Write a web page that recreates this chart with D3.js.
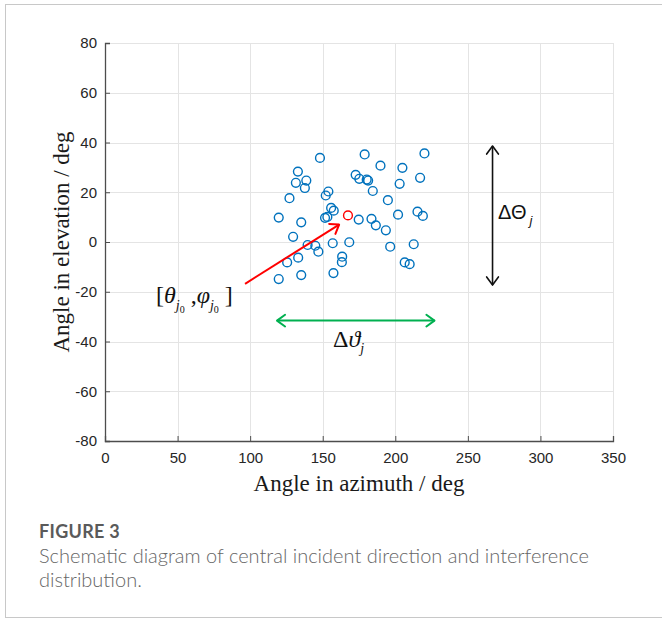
<!DOCTYPE html>
<html>
<head>
<meta charset="utf-8">
<script src="https://cdn.jsdelivr.net/npm/d3@7"></script>
<style>
  html, body { margin: 0; padding: 0; background: #fff; }
  svg { display: block; }
</style>
</head>
<body>
<svg id="fig" width="662" height="619"></svg>
<script>
// Interference directions (azimuth, elevation) in degrees
const azimuth = [148.1, 178.9, 220.1, 189.8, 204.9, 217.1, 132.9, 131.5, 138.7, 137.7,
  172.7, 175.2, 180.3, 181.3, 203.0, 184.5, 153.9, 152.1, 127.1, 194.9,
  155.8, 157.6, 119.7, 135.2, 153.2, 151.6, 174.8, 183.6, 186.6, 193.5,
  201.9, 215.3, 219.0, 129.6, 139.6, 144.9, 156.9, 168.3, 147.0, 196.5,
  212.7, 133.1, 125.5, 163.4, 163.2, 206.5, 209.9, 119.7, 135.2, 157.4];
const elevation = [33.8, 35.2, 35.6, 30.7, 29.8, 25.8, 28.3, 23.8, 24.7, 21.7,
  27.0, 25.4, 25.1, 24.7, 23.4, 20.5, 20.3, 18.7, 17.6, 16.8,
  13.7, 12.6, 9.8, 7.9, 10.1, 9.7, 9.0, 9.3, 6.7, 4.7,
  11.0, 12.2, 10.5, 2.1, -1.2, -1.5, -0.5, -0.1, -3.9, -1.9,
  -0.9, -6.3, -8.2, -5.9, -8.1, -8.2, -8.9, -14.9, -13.3, -12.5];

// Central incident direction
const centerDir = [167.4, 10.7];

// Annotation arrows: [x1, y1, x2, y2] in data units
const pointerArrow = [96.5, -16.8, 161.3, 7.0];
const elevSpanArrow = [267, 38.6, 267, -17.3];
const azSpanArrow = [118.5, -31.6, 227, -31.6];

const xTicks = [0, 50, 100, 150, 200, 250, 300, 350];
const yTicks = [-80, -60, -40, -20, 0, 20, 40, 60, 80];

const svg = d3.select("#fig");

// Outer frame
svg.append("rect")
  .attr("x", 5.5).attr("y", 4.5)
  .attr("width", 670).attr("height", 613)
  .attr("fill", "none").attr("stroke", "#c8c8c8").attr("stroke-width", 1);

const L = 105, T = 43, R = 613, B = 441;
const x = d3.scaleLinear().domain([0, 350]).range([L, R]);
const y = d3.scaleLinear().domain([-80, 80]).range([B, T]);

// Grid
const grid = svg.append("g").attr("stroke", "#e4e4e4").attr("stroke-width", 1);
grid.selectAll("line.v").data(xTicks.slice(1)).join("line")
  .attr("x1", d => Math.round(x(d)) + 0.5).attr("x2", d => Math.round(x(d)) + 0.5)
  .attr("y1", T).attr("y2", B);
grid.selectAll("line.h").data(yTicks.slice(1)).join("line")
  .attr("x1", L).attr("x2", R)
  .attr("y1", d => Math.round(y(d)) + 0.5).attr("y2", d => Math.round(y(d)) + 0.5);

// Axes (ticks pointing inward, plain hyphen minus in labels)
const fmt = d => String(d);
const xAxis = svg.append("g").attr("transform", `translate(0,${B})`)
  .call(d3.axisBottom(x).tickValues(xTicks).tickFormat(fmt)
    .tickSizeInner(-5).tickSizeOuter(-5).tickPadding(11));
const yAxis = svg.append("g").attr("transform", `translate(${L},0)`)
  .call(d3.axisLeft(y).tickValues(yTicks).tickFormat(fmt)
    .tickSizeInner(-5).tickSizeOuter(-5).tickPadding(8));
[xAxis, yAxis].forEach(a => {
  a.attr("font-family", "'Liberation Sans', Arial, sans-serif").attr("font-size", 15);
  a.select(".domain").attr("stroke", "#4d4d4d").attr("stroke-width", 1.3);
  a.selectAll(".tick line").attr("stroke", "#4d4d4d").attr("stroke-width", 1);
  a.selectAll(".tick text").attr("fill", "#262626");
});

// Axis titles
const serif = "'Liberation Serif', 'Times New Roman', serif";
svg.append("text")
  .attr("x", (L + R) / 2).attr("y", 491)
  .attr("text-anchor", "middle")
  .style("font-family", serif)
  .style("font-size", "23px").attr("fill", "#1a1a1a")
  .text("Angle in azimuth / deg");
svg.append("text")
  .attr("transform", `translate(69,${(T + B) / 2}) rotate(-90)`)
  .attr("text-anchor", "middle")
  .style("font-family", serif)
  .style("font-size", "23px").attr("fill", "#1a1a1a")
  .text("Angle in elevation / deg");

// Interference points
svg.append("g").selectAll("circle").data(azimuth).join("circle")
  .attr("cx", (d, i) => x(d)).attr("cy", (d, i) => y(elevation[i]))
  .attr("r", 4.4)
  .attr("fill", "none").attr("stroke", "#0072BD").attr("stroke-width", 1.4);

svg.append("circle")
  .attr("cx", x(centerDir[0])).attr("cy", y(centerDir[1]))
  .attr("r", 4.4)
  .attr("fill", "none").attr("stroke", "#FF0000").attr("stroke-width", 1.4);

// Arrows with open chevron heads
function chevron(g, px, py, ang, color, w) {
  const len = 10, spread = Math.PI / 5;
  const pts = [
    [px - len * Math.cos(ang - spread), py - len * Math.sin(ang - spread)],
    [px, py],
    [px - len * Math.cos(ang + spread), py - len * Math.sin(ang + spread)]
  ];
  g.append("path").attr("d", d3.line()(pts))
    .attr("fill", "none").attr("stroke", color).attr("stroke-width", w)
    .attr("stroke-linecap", "round").attr("stroke-linejoin", "round");
}
function arrow(a, color, w, both) {
  const g = svg.append("g");
  const x1 = x(a[0]), y1 = y(a[1]), x2 = x(a[2]), y2 = y(a[3]);
  g.append("line").attr("x1", x1).attr("y1", y1).attr("x2", x2).attr("y2", y2)
    .attr("stroke", color).attr("stroke-width", w);
  const ang = Math.atan2(y2 - y1, x2 - x1);
  chevron(g, x2, y2, ang, color, w);
  if (both) chevron(g, x1, y1, ang + Math.PI, color, w);
}
arrow(pointerArrow, "#FF0000", 2, false);
arrow(elevSpanArrow, "#111111", 1.6, true);
arrow(azSpanArrow, "#00B050", 2, true);

// Annotation labels
const lab1 = svg.append("text")
  .attr("x", 156).attr("y", 303)
  .style("font-family", serif).style("font-size", "24px").attr("fill", "#111");
lab1.append("tspan").text("[");
lab1.append("tspan").style("font-style", "italic").text("θ");
lab1.append("tspan").attr("dy", 7).style("font-size", "14px").style("font-style", "italic").text("j");
lab1.append("tspan").attr("dy", 3).style("font-size", "10px").text("0");
lab1.append("tspan").attr("dy", -10).text(" ,");
lab1.append("tspan").style("font-style", "italic").text("φ");
lab1.append("tspan").attr("dy", 7).style("font-size", "14px").style("font-style", "italic").text("j");
lab1.append("tspan").attr("dy", 3).style("font-size", "10px").text("0");
lab1.append("tspan").attr("dy", -10).text(" ]");

const lab2 = svg.append("text")
  .attr("x", 333).attr("y", 347)
  .style("font-family", serif).style("font-size", "24px").attr("fill", "#111");
lab2.append("tspan").text("Δ");
lab2.append("tspan").style("font-style", "italic").text("ϑ");
lab2.append("tspan").attr("dy", 6).style("font-size", "14px").style("font-style", "italic").text("j");

const lab3 = svg.append("text")
  .attr("x", 498).attr("y", 219)
  .style("font-family", "'Liberation Sans', Arial, sans-serif").style("font-size", "20px").attr("fill", "#111");
lab3.append("tspan").text("ΔΘ");
lab3.append("tspan").attr("dx", 3).attr("dy", 6).style("font-size", "13px").style("font-style", "italic").text("j");

// Caption
svg.append("text")
  .attr("x", 39).attr("y", 538)
  .style("font-family", "Lato, 'Open Sans', sans-serif").style("font-size", "18px")
  .style("font-weight", "700").style("letter-spacing", "0.3px").attr("fill", "#5a5a5a")
  .text("FIGURE 3");
const cap = svg.append("text")
  .style("font-family", "Lato, 'Open Sans', sans-serif").style("font-size", "20px")
  .style("font-weight", "300").attr("fill", "#666");
cap.append("tspan").attr("x", 39).attr("y", 563)
  .text("Schematic diagram of central incident direction and interference");
cap.append("tspan").attr("x", 39).attr("y", 587).text("distribution.");
</script>
</body>
</html>
